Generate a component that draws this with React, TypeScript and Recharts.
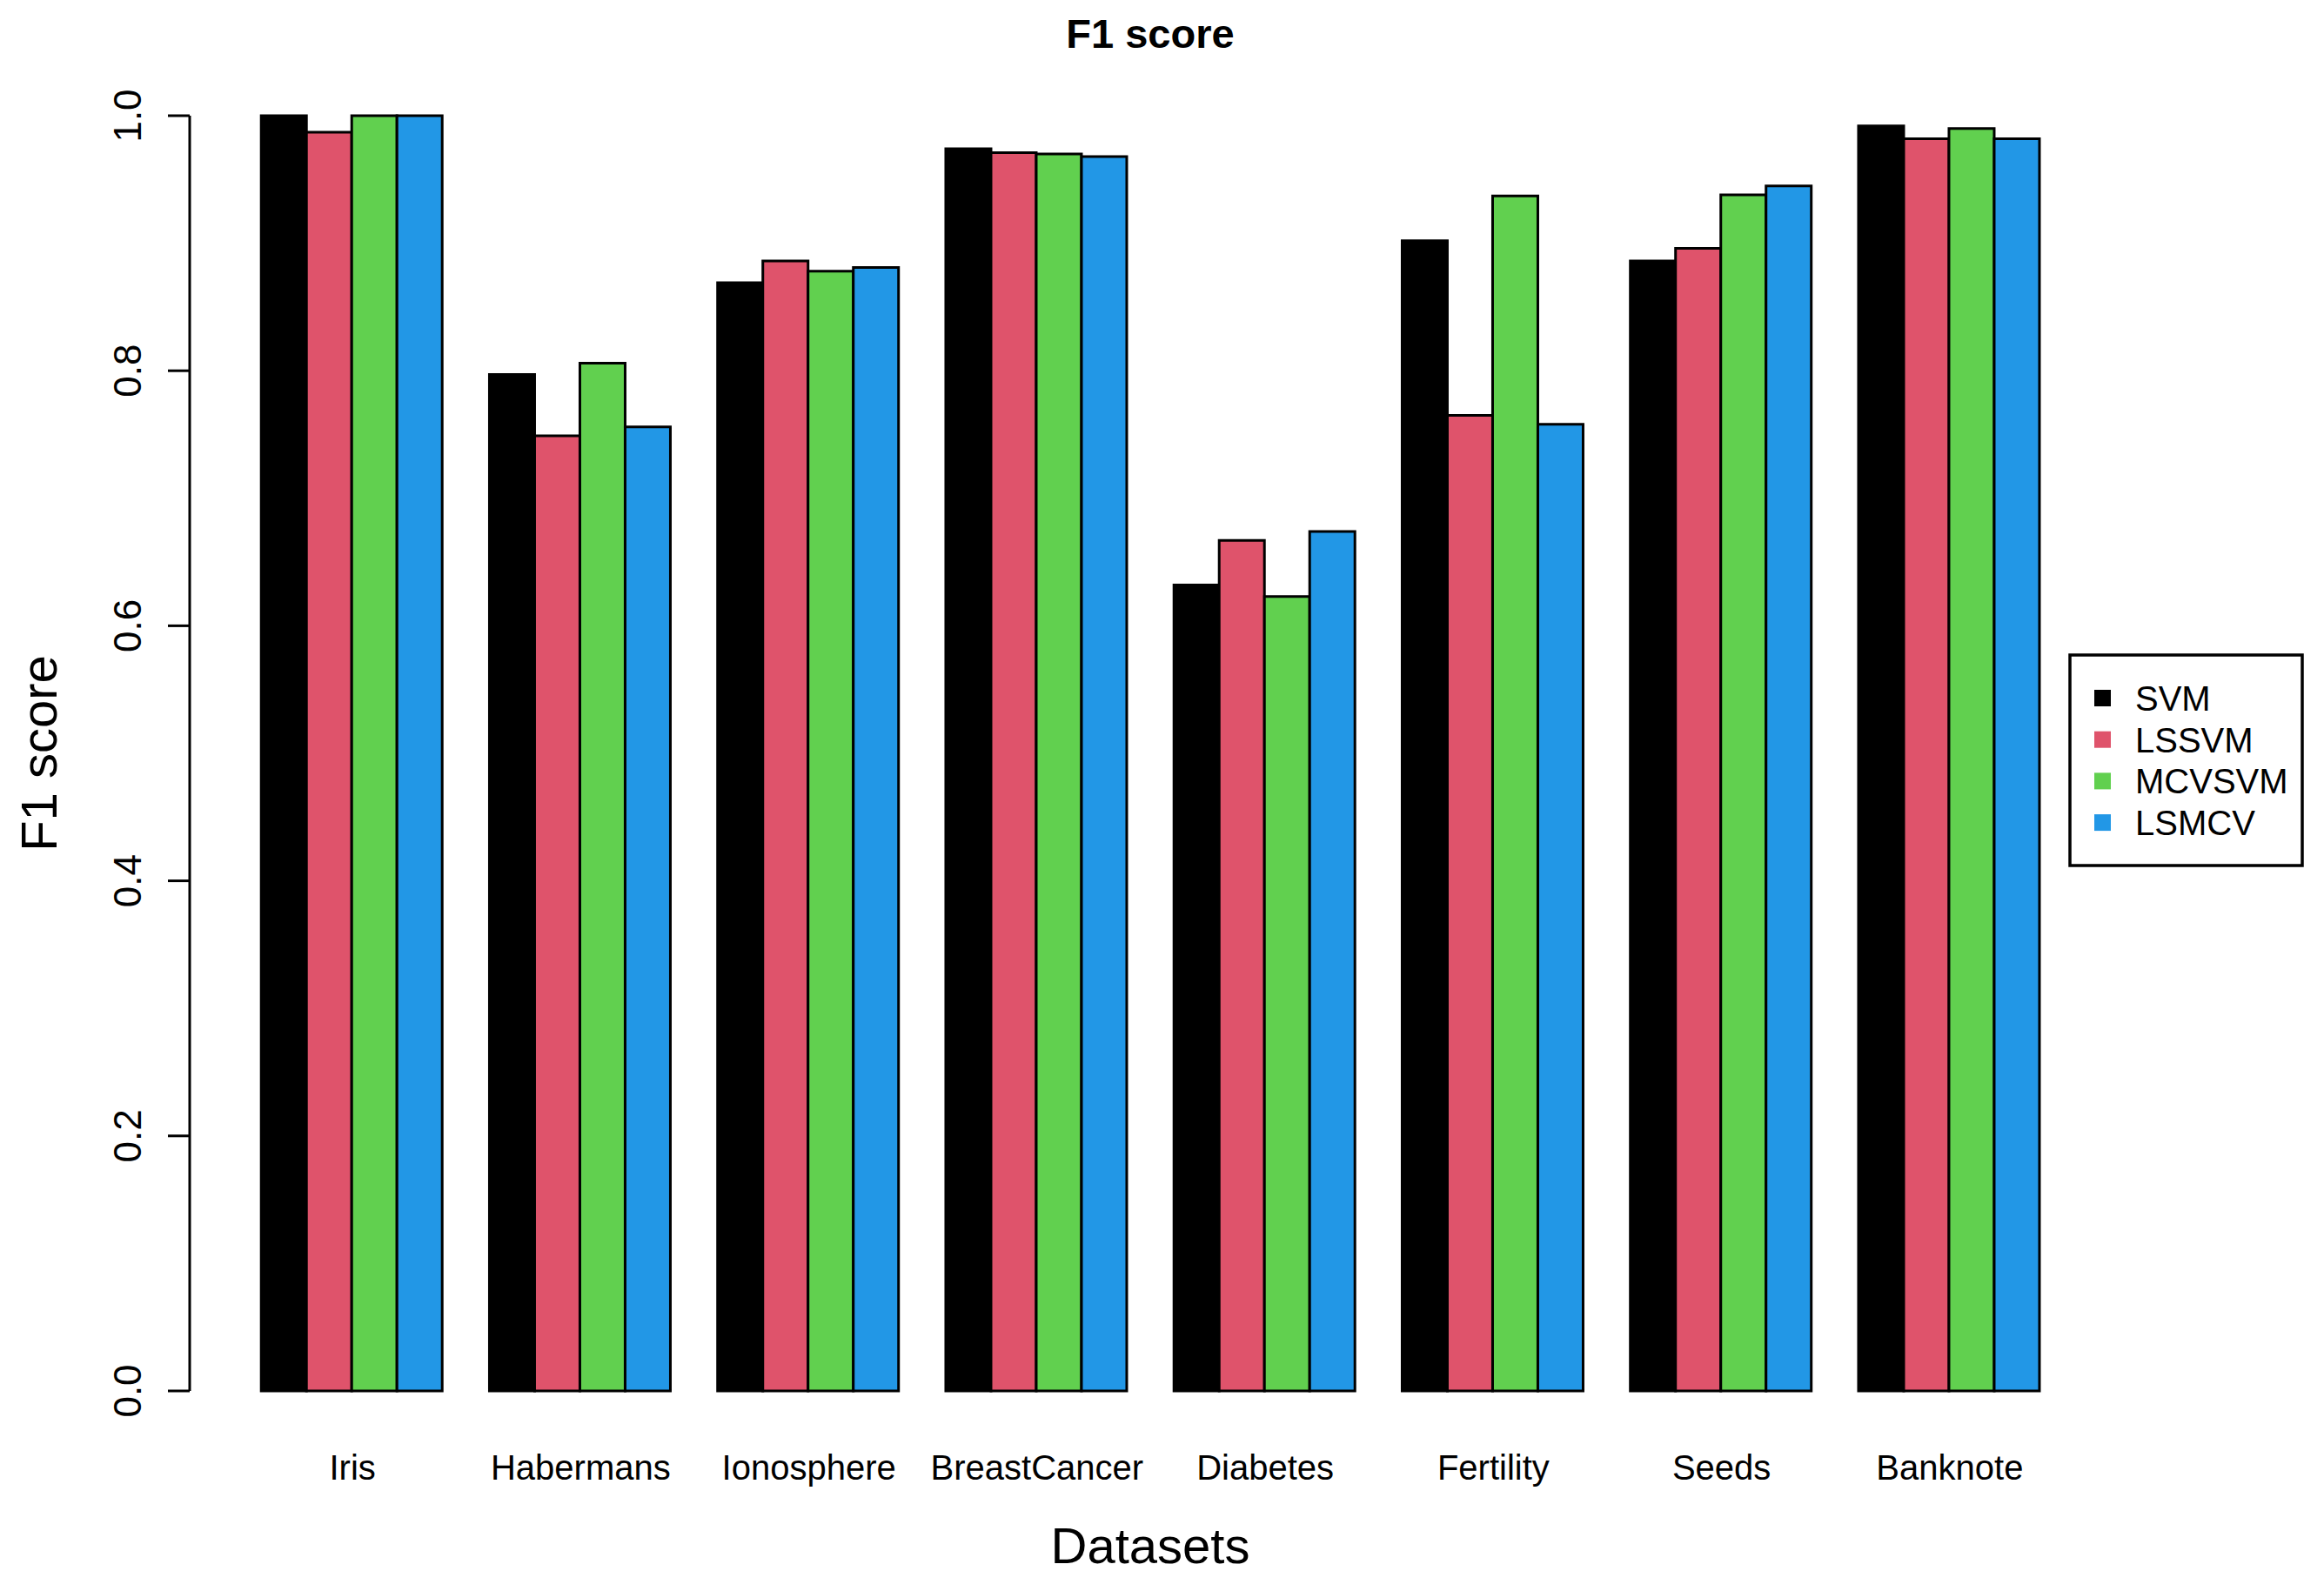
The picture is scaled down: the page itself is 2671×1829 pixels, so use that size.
import React from "react";
import { BarChart, Bar, XAxis, YAxis, Label } from "recharts";

const FONT = "'Liberation Sans', Arial, Helvetica, sans-serif";

const datasets = ["Iris", "Habermans", "Ionosphere", "BreastCancer", "Diabetes", "Fertility", "Seeds", "Banknote"];
const svm = [1.0, 0.797, 0.869, 0.974, 0.632, 0.902, 0.886, 0.992];
const lssvm = [0.987, 0.749, 0.886, 0.971, 0.667, 0.765, 0.896, 0.982];
const mcvsvm = [1.0, 0.806, 0.878, 0.97, 0.623, 0.937, 0.938, 0.99];
const lsmcv = [1.0, 0.756, 0.881, 0.968, 0.674, 0.758, 0.945, 0.982];
const yTicks = [0, 0.2, 0.4, 0.6, 0.8, 1.0];

const series = [
  { key: "SVM", color: "#000000" },
  { key: "LSSVM", color: "#DF536B" },
  { key: "MCVSVM", color: "#61D04F" },
  { key: "LSMCV", color: "#2297E6" },
];

const data = datasets.map((name, i) => ({
  name,
  SVM: svm[i],
  LSSVM: lssvm[i],
  MCVSVM: mcvsvm[i],
  LSMCV: lsmcv[i],
}));

const YTick = (props: any) => {
  const { x, y, payload } = props;
  const bx = x - 29;
  return (
    <text x={bx} y={y} transform={`rotate(-90, ${bx}, ${y})`} textAnchor="middle" fontSize={44} fontFamily={FONT} fill="#000">
      {Number(payload.value).toFixed(1)}
    </text>
  );
};

const XTick = (props: any) => {
  const { x, y, payload } = props;
  return (
    <text x={x} y={y + 102} textAnchor="middle" fontSize={40} fontFamily={FONT} fill="#000">
      {payload.value}
    </text>
  );
};

export default function App() {
  return (
    <div style={{ position: "absolute", left: 0, top: 0, width: 2671, height: 1829, background: "#fff" }}>
      <BarChart
        width={2671}
        height={1829}
        data={data}
        margin={{ top: 133, right: 245, bottom: 30, left: 0 }}
        barCategoryGap="10%"
        barGap={0}
      >
        <XAxis
          dataKey="name"
          height={200}
          axisLine={false}
          tickLine={false}
          tickSize={0}
          tickMargin={0}
          padding={{ left: 56, right: 54 }}
          tick={<XTick />}
          interval={0}
        >
          <Label
            content={(p: any) => {
              const vb = p.viewBox;
              return (
                <text x={vb.x + vb.width / 2} y={1797} textAnchor="middle" fontSize={58} fontFamily={FONT} fill="#000">
                  Datasets
                </text>
              );
            }}
          />
        </XAxis>
        <YAxis
          type="number"
          domain={[0, 1]}
          ticks={yTicks}
          width={218}
          tickSize={25}
          axisLine={{ stroke: "#000", strokeWidth: 3 }}
          tickLine={{ stroke: "#000", strokeWidth: 3 }}
          tick={<YTick />}
        >
          <Label
            content={(p: any) => {
              const vb = p.viewBox;
              const cy = vb.y + vb.height / 2;
              return (
                <text x={65} y={cy} transform={`rotate(-90, 65, ${cy})`} textAnchor="middle" fontSize={58} fontFamily={FONT} fill="#000">
                  F1 score
                </text>
              );
            }}
          />
        </YAxis>
        {series.map((s) => (
          <Bar key={s.key} dataKey={s.key} fill={s.color} stroke="#000" strokeWidth={3} isAnimationActive={false} />
        ))}
      </BarChart>
      <svg width={2671} height={1829} style={{ position: "absolute", left: 0, top: 0, pointerEvents: "none" }}>
        <text x={1322} y={55} textAnchor="middle" fontSize={47} fontWeight="bold" fontFamily={FONT} fill="#000">
          F1 score
        </text>
        <rect x={2379} y={753} width={267} height={242} fill="none" stroke="#000" strokeWidth={3.5} />
        {series.map((s, i) => (
          <g key={s.key}>
            <rect x={2407} y={793 + i * 47.7} width={19} height={19} fill={s.color} />
            <text x={2454} y={817 + i * 47.7} fontSize={40} fontFamily={FONT} fill="#000">
              {s.key}
            </text>
          </g>
        ))}
      </svg>
    </div>
  );
}
